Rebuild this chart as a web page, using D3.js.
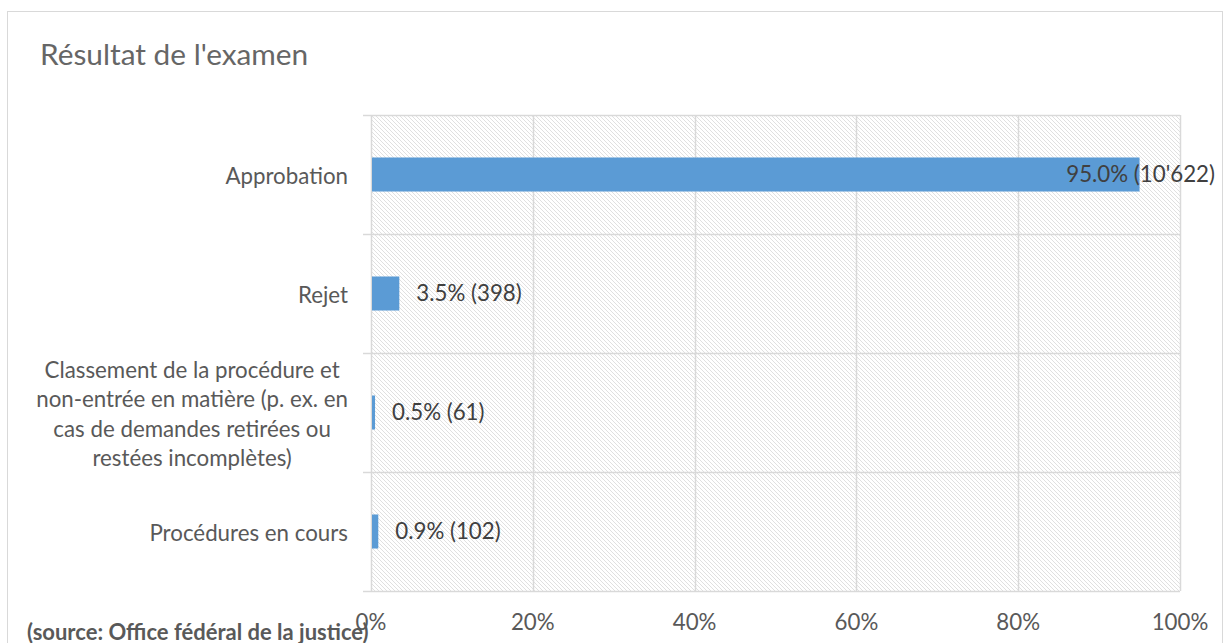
<!DOCTYPE html>
<html><head><meta charset="utf-8">
<script src="https://cdn.jsdelivr.net/npm/d3@7"></script>
<style>
html,body{margin:0;padding:0;background:#fff;overflow:hidden}
svg{display:block}
</style></head>
<body>
<svg id="c" width="1227" height="643"></svg>
<script>
const title = "Résultat de l'examen";
const source = "(source: Office fédéral de la justice)";
const categories = [
  ["Approbation"],
  ["Rejet"],
  ["Classement de la procédure et", "non-entrée en matière (p. ex. en", "cas de demandes retirées ou", "restées incomplètes)"],
  ["Procédures en cours"]
];
const percentages = [95.0, 3.5, 0.5, 0.9];
const counts = [10622, 398, 61, 102];
const tickValues = [0, 20, 40, 60, 80, 100];

const FONT = "Lato, 'Open Sans', sans-serif";
const svg = d3.select("#c");
const m = {left: 371, right: 1180, top: 115, bottom: 591};
const FS = 22.3;

svg.append("rect").attr("x", 7.5).attr("y", 11.5).attr("width", 1215).attr("height", 700)
  .attr("fill", "#fff").attr("stroke", "#d9d9d9").attr("stroke-width", 1);

const defs = svg.append("defs");
const pat = defs.append("pattern").attr("id", "hatch").attr("patternUnits", "userSpaceOnUse")
  .attr("width", 4).attr("height", 4);
pat.append("rect").attr("width", 4).attr("height", 4).attr("fill", "#fff");
pat.append("path").attr("d", "M-1,-1 L5,5 M-1,3 L1,5 M3,-1 L5,1")
  .attr("stroke", "#e0e0e0").attr("stroke-width", 1);

const x = d3.scaleLinear().domain([0, 100]).range([m.left, m.right]);
const y = d3.scaleBand().domain(d3.range(categories.length)).range([m.top, m.bottom]).paddingInner(0).paddingOuter(0);

svg.append("rect").attr("x", m.left).attr("y", m.top).attr("width", m.right - m.left)
  .attr("height", m.bottom - m.top).attr("fill", "url(#hatch)");

// vertical gridlines
svg.append("g").selectAll("line").data(tickValues).join("line")
  .attr("x1", d => Math.round(x(d)) + 0.5).attr("x2", d => Math.round(x(d)) + 0.5)
  .attr("y1", m.top).attr("y2", m.bottom)
  .attr("stroke", "#d9d9d9").attr("stroke-width", 1.5);

// horizontal category separators (with tick extension)
const seps = d3.range(categories.length + 1).map(i => i < categories.length ? y(i) : m.bottom);
svg.append("g").selectAll("line").data(seps).join("line")
  .attr("x1", m.left - 8).attr("x2", m.right)
  .attr("y1", d => Math.round(d) + 0.5).attr("y2", d => Math.round(d) + 0.5)
  .attr("stroke", "#d9d9d9").attr("stroke-width", 1.5);

// bars
const barH = y.bandwidth() * 0.286;
svg.append("g").selectAll("rect").data(percentages).join("rect")
  .attr("x", x(0) + 1).attr("y", (d, i) => y(i) + (y.bandwidth() - barH) / 2)
  .attr("width", d => x(d) - x(0) - 1).attr("height", barH)
  .attr("fill", "#5b9bd5");

// data labels
const fmtCount = n => d3.format(",")(n).replace(/,/g, "'");
const labelLimit = 1215;
svg.append("g").selectAll("text").data(percentages).join("text")
  .attr("font-family", FONT).attr("font-size", FS).attr("fill", "#404040")
  .attr("y", (d, i) => y(i) + y.bandwidth() / 2).attr("dy", "0.35em")
  .text((d, i) => d.toFixed(1) + "% (" + fmtCount(counts[i]) + ")")
  .each(function(d) {
    const t = d3.select(this);
    const w = this.getComputedTextLength();
    const sx = x(d) + 17;
    if (sx + w > labelLimit) t.attr("x", labelLimit).attr("text-anchor", "end");
    else t.attr("x", sx).attr("text-anchor", "start");
  });

// category labels
const lineH = 29.4;
const catG = svg.append("g");
categories.forEach((lines, i) => {
  const cy = y(i) + y.bandwidth() / 2 + 1.5;
  const t = catG.append("text").attr("font-family", FONT).attr("font-size", FS).attr("fill", "#595959")
    .attr("text-anchor", "middle");
  const spans = lines.map((ln, j) => t.append("tspan").attr("y", cy + (j - (lines.length - 1) / 2) * lineH).attr("dy", "0.35em").text(ln));
  let maxW = 0;
  spans.forEach(s => { maxW = Math.max(maxW, s.node().getComputedTextLength()); });
  spans.forEach(s => s.attr("x", 348 - maxW / 2));
});

// x tick labels
svg.append("g").selectAll("text").data(tickValues).join("text")
  .attr("font-family", FONT).attr("font-size", FS).attr("fill", "#595959")
  .attr("text-anchor", "middle").attr("x", d => x(d)).attr("y", 630)
  .text(d => d + "%");

// title
svg.append("text").attr("x", 40).attr("y", 65).attr("font-family", FONT).attr("font-size", 29.8)
  .attr("fill", "#666").text(title);

// source
svg.append("text").attr("x", 27).attr("y", 640).attr("font-family", FONT).attr("font-size", 22)
  .attr("font-weight", "bold").attr("fill", "#595959").text(source);
</script>
</body></html>
